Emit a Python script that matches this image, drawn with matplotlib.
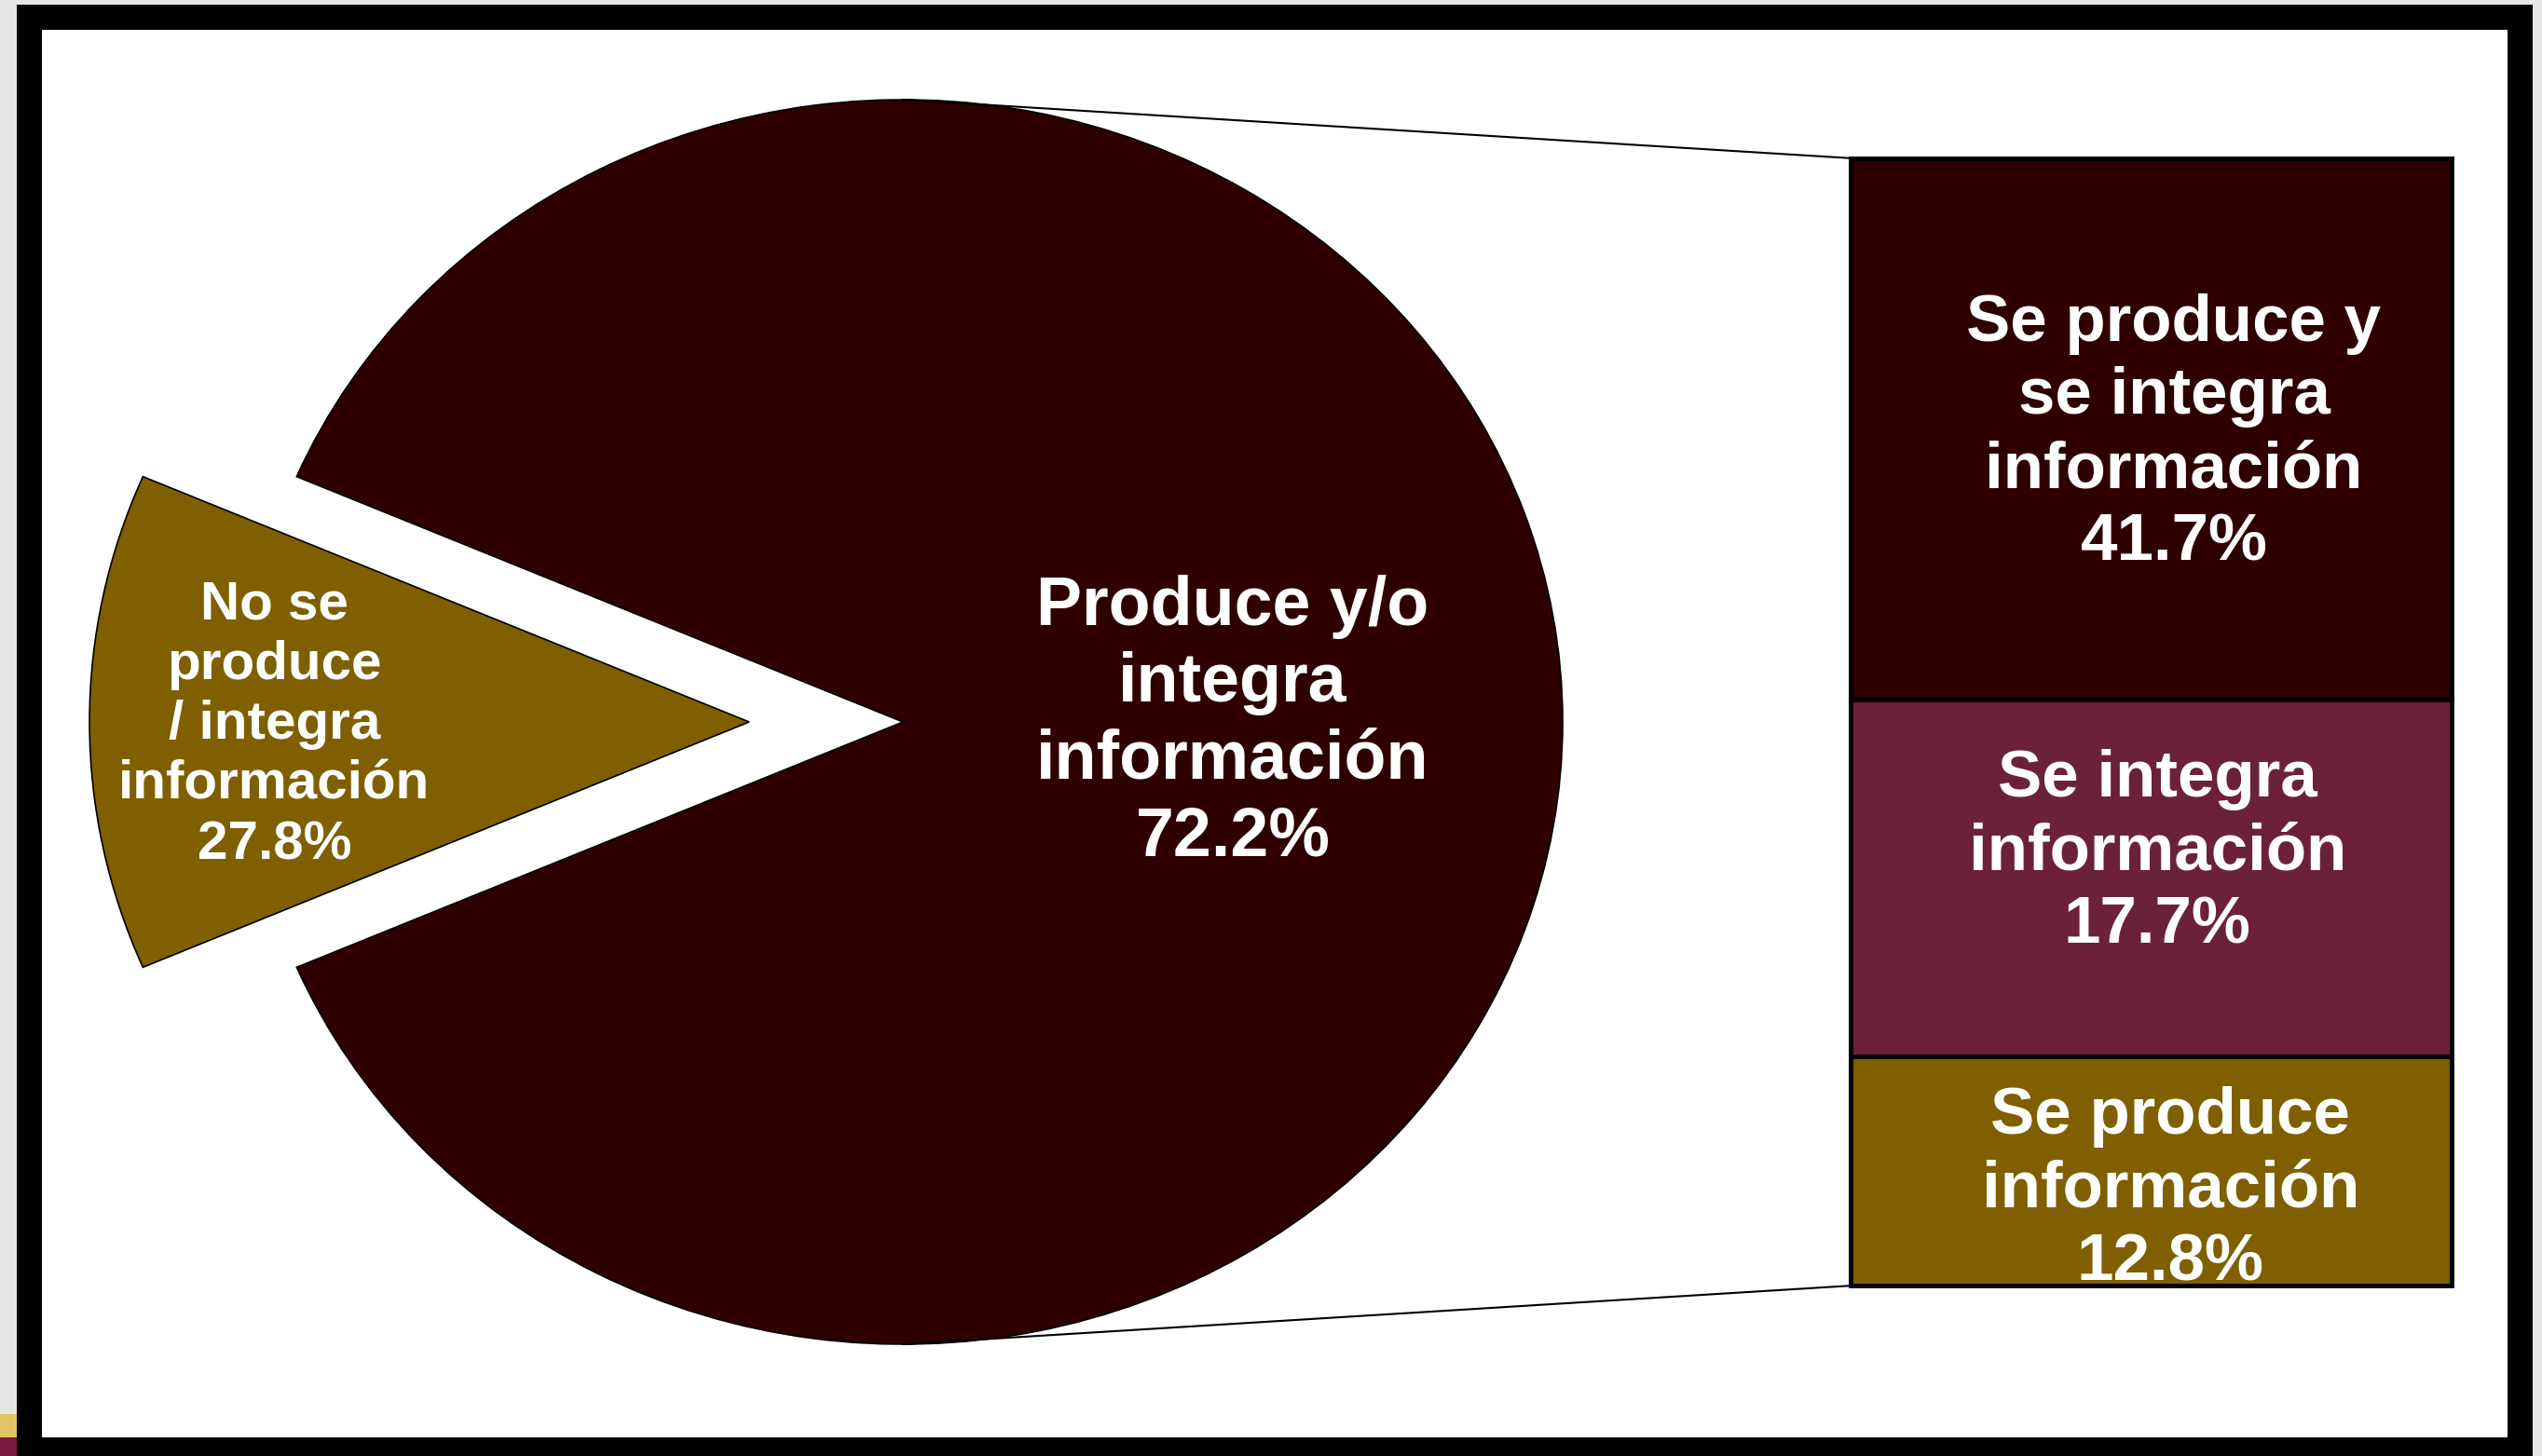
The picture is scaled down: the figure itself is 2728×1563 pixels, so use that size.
import matplotlib.pyplot as plt
from matplotlib.patches import Rectangle

# ---- data ----
pie_labels = ["No se\nproduce\n/ integra\ninformación\n27.8%",
              "Produce y/o\nintegra\ninformación\n72.2%"]
# wedge sizes as they are drawn in the source (they do not follow the printed %)
pie_drawn = [12.9, 87.1]

bar_labels = ["Se produce\ninformación\n12.8%",
              "Se integra\ninformación\n17.7%",
              "Se produce y\nse integra\ninformación\n41.7%"]
# segment shares as drawn, bottom to top
bar_drawn = [20.3, 31.7, 48.0]

dark = "#2f0000"
olive = "#7f5f00"
purple = "#6b2239"

# ---- figure ----
W, H = 2728, 1563
fig = plt.figure(figsize=(W / 100, H / 100), dpi=100, facecolor="#e6e6e6")

# black frame with white inside
fig.add_artist(Rectangle((18 / W, 0), 2700 / W, 1558 / H, transform=fig.transFigure,
                         facecolor="black", edgecolor="none", zorder=0))
fig.add_artist(Rectangle((45 / W, 20 / H), 2646 / W, 1511 / H, transform=fig.transFigure,
                         facecolor="white", edgecolor="none", zorder=0))
# bits of the slide behind, bottom left
fig.add_artist(Rectangle((0, 20 / H), 18 / W, 25 / H, transform=fig.transFigure,
                         facecolor="#e2c465", edgecolor="none", zorder=0))
fig.add_artist(Rectangle((0, 0), 18 / W, 20 / H, transform=fig.transFigure,
                         facecolor="#7b1a3e", edgecolor="none", zorder=0))

ax = fig.add_axes([0, 0, 1, 1], zorder=1)
ax.patch.set_alpha(0)

# pie, olive wedge centred on the left side and pulled out
start = 180 - pie_drawn[0] * 3.6 / 2
explode = [0.233, 0]
ax.pie(pie_drawn, colors=[olive, dark], startangle=start, explode=explode,
       radius=1, center=(0, 0),
       wedgeprops=dict(edgecolor="black", linewidth=1.2))

font = dict(family="Liberation Sans", weight="bold", color="white",
            ha="center", va="center", linespacing=1.25)
ax.text(-explode[0] - 0.72, -0.005, pie_labels[0], fontsize=42, **font)
ax.text(0.5, 0, pie_labels[1], fontsize=53, **font)

# stacked bar for the breakdown
bx0, bw = 1.436, 0.911
btop, bbot = 0.906, -0.906
scale = (btop - bbot) / sum(bar_drawn)
bar_cols = [olive, purple, dark]
lab_dx = [0.03, 0.01, 0.035]
lab_dy = [-0.03, 0.04, -0.008]
bottom = bbot
for i, (val, lab, col) in enumerate(zip(bar_drawn, bar_labels, bar_cols)):
    h = val * scale
    ax.bar(bx0, h, width=bw, bottom=bottom, align="edge", color=col,
           edgecolor="black", linewidth=3.5)
    ax.text(bx0 + bw / 2 + lab_dx[i], bottom + h / 2 + lab_dy[i], lab,
            fontsize=51, **font)
    bottom += h

# connector lines pie -> bar
ax.plot([0, bx0], [1, btop], color="black", linewidth=1.5)
ax.plot([0, bx0], [-1, bbot], color="black", linewidth=1.5)

# stretched like the source (x unit = 708 px, y unit = 668 px)
ax.set_aspect("auto")
ax.set_xlim(-969 / 708, (W - 969) / 708)
ax.set_ylim(-(H - 775) / 668, 775 / 668)
ax.axis("off")

fig.savefig("out.png", dpi=100, facecolor=fig.get_facecolor())
